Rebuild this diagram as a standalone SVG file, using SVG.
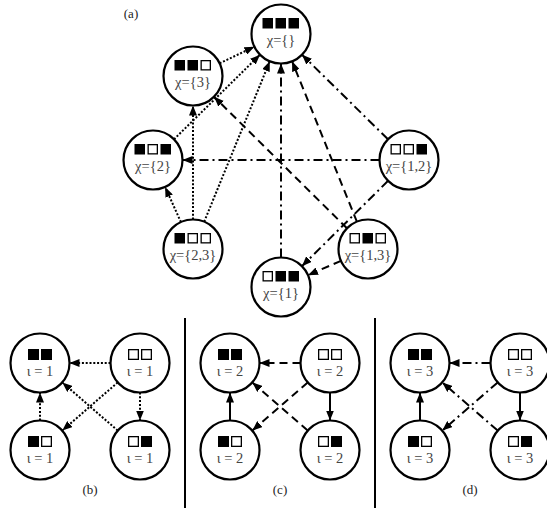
<svg xmlns="http://www.w3.org/2000/svg" width="547" height="508" viewBox="0 0 547 508">
  <style>
    .node { fill: #fff; stroke: #000; stroke-width: 2.2; }
    .sb { fill: #000; }
    .sw { fill: #fff; stroke: #000; stroke-width: 1.3; }
    .lbl { font-family: "Liberation Serif", "DejaVu Serif", serif; font-size: 14.5px; fill: #444; text-anchor: middle; }
    .il { font-family: "Liberation Serif", "DejaVu Serif", serif; font-size: 14.5px; fill: #444; text-anchor: middle; }
    .cap { font-family: "Liberation Serif", "DejaVu Serif", serif; font-size: 13px; fill: #222; text-anchor: middle; }
    .e { fill: none; stroke: #000; stroke-width: 2; marker-end: url(#ah); }
    .dot { stroke-dasharray: 2 1.8; }
    .dash { stroke-dasharray: 8 5; }
    .dd { stroke-dasharray: 9 4 2 4; }
    .sep { stroke: #000; stroke-width: 2; }
  </style>
  <defs>
    <marker id="ah" markerUnits="userSpaceOnUse" markerWidth="10" markerHeight="8" refX="10" refY="4" orient="auto">
      <path d="M0,0 L10,4 L0,8 Z" fill="#000"/>
    </marker>
  </defs>

  <rect width="547" height="508" fill="#fff"/>

  <!-- panel (a): lattice of variable sets -->
  <text class="cap" x="131" y="18">(a)</text>

  <g id="connectors-a">
    <!-- dotted family -->
    <line class="e dot" x1="219.6" y1="63.3" x2="254.4" y2="46.7"/>
    <line class="e dot" x1="174.0" y1="139.3" x2="260.0" y2="54.7"/>
    <line class="e dot" x1="204.2" y1="221.7" x2="269.8" y2="61.3"/>
    <line class="e dot" x1="193" y1="219.5" x2="193" y2="105.5"/>
    <line class="e dot" x1="180.9" y1="222.1" x2="165.1" y2="186.9"/>
    <!-- dashed family -->
    <line class="e dash" x1="356.9" y1="221.7" x2="292.1" y2="61.3"/>
    <line class="e dash" x1="347.0" y1="228.3" x2="214.0" y2="96.7"/>
    <line class="e dash" x1="341.0" y1="260.8" x2="308.0" y2="275.2"/>
    <!-- dash-dot family -->
    <line class="e dd" x1="388.0" y1="139.3" x2="302.0" y2="54.7"/>
    <line class="e dd" x1="379.5" y1="160" x2="182.5" y2="160"/>
    <line class="e dd" x1="388.1" y1="180.8" x2="301.9" y2="266.2"/>
    <line class="e dd" x1="281" y1="257.5" x2="281" y2="63.5"/>
  </g>

  <g id="chi-empty">
    <circle class="node" cx="281" cy="34" r="29.5"/>
    <rect class="sb" x="262.5" y="18" width="10.5" height="10.5"/>
    <rect class="sb" x="275.5" y="18" width="10.5" height="10.5"/>
    <rect class="sb" x="288.5" y="18" width="10.5" height="10.5"/>
    <text class="lbl" x="281" y="45">χ={}</text>
  </g>
  <g id="chi-3">
    <circle class="node" cx="193" cy="76" r="29.5"/>
    <rect class="sb" x="174.5" y="60" width="10.5" height="10.5"/>
    <rect class="sb" x="187.5" y="60" width="10.5" height="10.5"/>
    <rect class="sw" x="201.15" y="60.65" width="9.2" height="9.2"/>
    <text class="lbl" x="193" y="87">χ={3}</text>
  </g>
  <g id="chi-2">
    <circle class="node" cx="153" cy="160" r="29.5"/>
    <rect class="sb" x="134.5" y="144" width="10.5" height="10.5"/>
    <rect class="sw" x="148.15" y="144.65" width="9.2" height="9.2"/>
    <rect class="sb" x="160.5" y="144" width="10.5" height="10.5"/>
    <text class="lbl" x="153" y="171">χ={2}</text>
  </g>
  <g id="chi-12">
    <circle class="node" cx="409" cy="160" r="29.5"/>
    <rect class="sw" x="391.15" y="144.65" width="9.2" height="9.2"/>
    <rect class="sw" x="404.15" y="144.65" width="9.2" height="9.2"/>
    <rect class="sb" x="416.5" y="144" width="10.5" height="10.5"/>
    <text class="lbl" x="409" y="171">χ={1,2}</text>
  </g>
  <g id="chi-23">
    <circle class="node" cx="193" cy="249" r="29.5"/>
    <rect class="sb" x="174.5" y="233" width="10.5" height="10.5"/>
    <rect class="sw" x="188.15" y="233.65" width="9.2" height="9.2"/>
    <rect class="sw" x="201.15" y="233.65" width="9.2" height="9.2"/>
    <text class="lbl" x="193" y="260">χ={2,3}</text>
  </g>
  <g id="chi-13">
    <circle class="node" cx="368" cy="249" r="29.5"/>
    <rect class="sw" x="350.15" y="233.65" width="9.2" height="9.2"/>
    <rect class="sb" x="362.5" y="233" width="10.5" height="10.5"/>
    <rect class="sw" x="376.15" y="233.65" width="9.2" height="9.2"/>
    <text class="lbl" x="368" y="260">χ={1,3}</text>
  </g>
  <g id="chi-1">
    <circle class="node" cx="281" cy="287" r="29.5"/>
    <rect class="sw" x="263.15" y="271.65" width="9.2" height="9.2"/>
    <rect class="sb" x="275.5" y="271" width="10.5" height="10.5"/>
    <rect class="sb" x="288.5" y="271" width="10.5" height="10.5"/>
    <text class="lbl" x="281" y="298">χ={1}</text>
  </g>

  <!-- separators between panels (b), (c), (d) -->
  <line class="sep" x1="185" y1="318" x2="185" y2="508"/>
  <line class="sep" x1="375" y1="318" x2="375" y2="508"/>

  <!-- panel (b) -->
  <g id="connectors-b">
    <line class="e dot" x1="110.5" y1="363" x2="69.5" y2="363"/>
    <line class="e dot" x1="40" y1="420.5" x2="40" y2="392.5"/>
    <line class="e dot" x1="140" y1="392.5" x2="140" y2="420.5"/>
    <line class="e dot" x1="117.7" y1="382.4" x2="62.3" y2="430.6"/>
    <line class="e dot" x1="117.7" y1="430.6" x2="62.3" y2="382.4"/>
  </g>
  <g id="b-tl">
    <circle class="node" cx="40" cy="363" r="29.5"/>
    <rect class="sb" x="28" y="349" width="11" height="11"/>
    <rect class="sb" x="41" y="349" width="11" height="11"/>
    <text class="il" x="40" y="376">ι = 1</text>
  </g>
  <g id="b-tr">
    <circle class="node" cx="140" cy="363" r="29.5"/>
    <rect class="sw" x="128.65" y="349.65" width="9.7" height="9.7"/>
    <rect class="sw" x="141.65" y="349.65" width="9.7" height="9.7"/>
    <text class="il" x="140" y="376">ι = 1</text>
  </g>
  <g id="b-bl">
    <circle class="node" cx="40" cy="450" r="29.5"/>
    <rect class="sb" x="28" y="436" width="11" height="11"/>
    <rect class="sw" x="41.65" y="436.65" width="9.7" height="9.7"/>
    <text class="il" x="40" y="463">ι = 1</text>
  </g>
  <g id="b-br">
    <circle class="node" cx="140" cy="450" r="29.5"/>
    <rect class="sw" x="128.65" y="436.65" width="9.7" height="9.7"/>
    <rect class="sb" x="141" y="436" width="11" height="11"/>
    <text class="il" x="140" y="463">ι = 1</text>
  </g>
  <text class="cap" x="90" y="494">(b)</text>

  <!-- panel (c) -->
  <g id="connectors-c">
    <line class="e dash" x1="300.5" y1="363" x2="259.5" y2="363"/>
    <line class="e" x1="230" y1="420.5" x2="230" y2="392.5"/>
    <line class="e" x1="330" y1="392.5" x2="330" y2="420.5"/>
    <line class="e dash" x1="307.7" y1="382.4" x2="252.3" y2="430.6"/>
    <line class="e dash" x1="307.7" y1="430.6" x2="252.3" y2="382.4"/>
  </g>
  <g id="c-tl">
    <circle class="node" cx="230" cy="363" r="29.5"/>
    <rect class="sb" x="218" y="349" width="11" height="11"/>
    <rect class="sb" x="231" y="349" width="11" height="11"/>
    <text class="il" x="230" y="376">ι = 2</text>
  </g>
  <g id="c-tr">
    <circle class="node" cx="330" cy="363" r="29.5"/>
    <rect class="sw" x="318.65" y="349.65" width="9.7" height="9.7"/>
    <rect class="sw" x="331.65" y="349.65" width="9.7" height="9.7"/>
    <text class="il" x="330" y="376">ι = 2</text>
  </g>
  <g id="c-bl">
    <circle class="node" cx="230" cy="450" r="29.5"/>
    <rect class="sb" x="218" y="436" width="11" height="11"/>
    <rect class="sw" x="231.65" y="436.65" width="9.7" height="9.7"/>
    <text class="il" x="230" y="463">ι = 2</text>
  </g>
  <g id="c-br">
    <circle class="node" cx="330" cy="450" r="29.5"/>
    <rect class="sw" x="318.65" y="436.65" width="9.7" height="9.7"/>
    <rect class="sb" x="331" y="436" width="11" height="11"/>
    <text class="il" x="330" y="463">ι = 2</text>
  </g>
  <text class="cap" x="280" y="494">(c)</text>

  <!-- panel (d) -->
  <g id="connectors-d">
    <line class="e dd" x1="490.5" y1="363" x2="449.5" y2="363"/>
    <line class="e" x1="420" y1="420.5" x2="420" y2="392.5"/>
    <line class="e" x1="520" y1="392.5" x2="520" y2="420.5"/>
    <line class="e dd" x1="497.7" y1="382.4" x2="442.3" y2="430.6"/>
    <line class="e dd" x1="497.7" y1="430.6" x2="442.3" y2="382.4"/>
  </g>
  <g id="d-tl">
    <circle class="node" cx="420" cy="363" r="29.5"/>
    <rect class="sb" x="408" y="349" width="11" height="11"/>
    <rect class="sb" x="421" y="349" width="11" height="11"/>
    <text class="il" x="420" y="376">ι = 3</text>
  </g>
  <g id="d-tr">
    <circle class="node" cx="520" cy="363" r="29.5"/>
    <rect class="sw" x="508.65" y="349.65" width="9.7" height="9.7"/>
    <rect class="sw" x="521.65" y="349.65" width="9.7" height="9.7"/>
    <text class="il" x="520" y="376">ι = 3</text>
  </g>
  <g id="d-bl">
    <circle class="node" cx="420" cy="450" r="29.5"/>
    <rect class="sb" x="408" y="436" width="11" height="11"/>
    <rect class="sw" x="421.65" y="436.65" width="9.7" height="9.7"/>
    <text class="il" x="420" y="463">ι = 3</text>
  </g>
  <g id="d-br">
    <circle class="node" cx="520" cy="450" r="29.5"/>
    <rect class="sw" x="508.65" y="436.65" width="9.7" height="9.7"/>
    <rect class="sb" x="521" y="436" width="11" height="11"/>
    <text class="il" x="520" y="463">ι = 3</text>
  </g>
  <text class="cap" x="470" y="494">(d)</text>
</svg>
